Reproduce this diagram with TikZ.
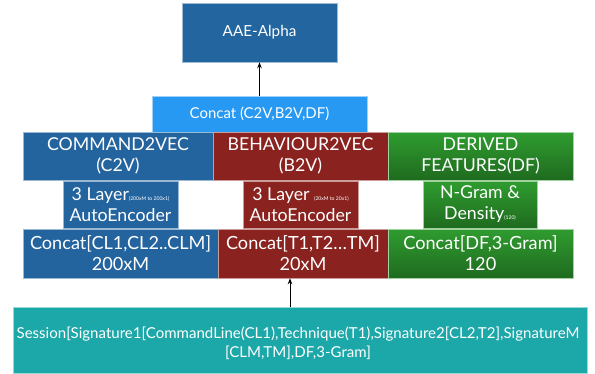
\documentclass[tikz,border=0pt]{standalone}
\usepackage{fontspec}
\setmainfont{Lato}
\usetikzlibrary{arrows.meta,calc}
\definecolor{aaeblue}{HTML}{23659F}
\definecolor{catblue}{HTML}{2799F3}
\definecolor{cblue}{HTML}{24649E}
\definecolor{bred}{HTML}{8A231F}
\definecolor{gtop}{HTML}{2F9C2F}
\definecolor{gbot}{HTML}{1F6B1F}
\definecolor{teal}{HTML}{1CA7A8}
\tikzset{
  box/.style={draw=white!55!#1, line width=0.5pt, fill=#1, text=white, align=center, inner sep=0pt, anchor=center},
  gbox/.style={draw=white!55!gtop, line width=0.5pt, top color=gtop, bottom color=gbot, text=white, align=center, inner sep=0pt, anchor=center},
  aaef/.style={font=\fontsize{15.3}{18}\selectfont},
  catf/.style={font=\fontsize{15}{18}\selectfont},
  rowf/.style={font=\fontsize{17.8}{21}\selectfont},
  row3f/.style={font=\fontsize{18.2}{21}\selectfont},
  sesf/.style={font=\fontsize{15.1}{19.5}\selectfont, text=white, align=center, inner sep=0pt},
  arr/.style={-{Stealth[length=6pt,width=4.5pt]}, line width=0.9pt, black}
}
\newcommand{\tinytxt}[1]{{\fontsize{5.1}{6}\selectfont #1}}
\begin{document}
\begin{tikzpicture}[x=1bp,y=-1bp]
\useasboundingbox (0,0) rectangle (595,373);
\node[box=aaeblue, aaef, minimum width=155bp, minimum height=59bp] (aae) at (259.5,32.5) {AAE-Alpha};
\node[box=catblue, catf, minimum width=215bp, minimum height=36bp] (cat) at (259.5,114) {Concat (C2V,B2V,DF)};
\node[box=cblue, rowf, minimum width=190bp, minimum height=48bp] (c2v) at (118,156) {COMMAND2VEC\\(C2V)};
\node[box=bred, rowf, minimum width=175bp, minimum height=48bp] (b2v) at (300.5,156) {BEHAVIOUR2VEC\\(B2V)};
\node[gbox, rowf, minimum width=185bp, minimum height=48bp] (df) at (480.5,156) {DERIVED\\FEATURES(DF)};
\node[box=cblue, rowf, minimum width=115bp, minimum height=47bp] (ae1) at (120.5,204.5) {3 Layer\tinytxt{(200xM to 200x1)}\\AutoEncoder};
\node[box=bred, rowf, minimum width=115bp, minimum height=47bp] (ae2) at (300.5,204.5) {3 Layer \tinytxt{(20xM to 20x1)}\\AutoEncoder};
\node[gbox, rowf, minimum width=114bp, minimum height=47bp] (ng) at (480,204.5) {N-Gram \&\\Density\tinytxt{(120)}};
\node[box=cblue, row3f, minimum width=195bp, minimum height=49bp] (cc1) at (120.5,253.5) {Concat[CL1,CL2..CLM]\\200xM};
\node[box=bred, row3f, minimum width=170bp, minimum height=49bp] (cc2) at (303,253.5) {Concat[T1,T2\dots TM]\\20xM};
\node[gbox, row3f, minimum width=185bp, minimum height=49bp] (cc3) at (480.5,253.5) {Concat[DF,3-Gram]\\120};
\node[box=teal, minimum width=574bp, minimum height=66bp] (ses) at (300,340) {};
\node[sesf] (sestext) at ($(ses.center)+(-2,3)$) {Session[Signature1[CommandLine(CL1),Technique(T1),Signature2[CL2,T2],SignatureM\\\relax [CLM,TM],DF,3-Gram]};
\coordinate (ax) at (290,0);
\draw[arr] (cat.north) -- (aae.south);
\draw[arr] (ses.north -| ax) -- (cc2.south -| ax);
\end{tikzpicture}
\end{document}
